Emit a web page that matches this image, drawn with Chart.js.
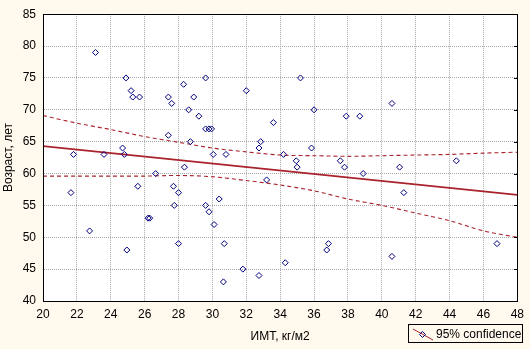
<!DOCTYPE html>
<html><head><meta charset="utf-8">
<script src="https://cdn.jsdelivr.net/npm/chart.js@4"></script>
<style>
html,body{margin:0;padding:0;background:#FFF9EE;}
#wrap{position:relative;width:530px;height:349px;}
#legend{position:absolute;left:408px;top:324px;width:113px;height:17px;border:1px solid #000;font:12px "Liberation Sans",Arial,sans-serif;color:#000;}
#legend svg{position:absolute;left:0;top:0;}
#legend span{position:absolute;left:27px;top:0;line-height:18px;white-space:nowrap;}
</style>
</head><body>
<div id="wrap">
<canvas id="c" width="530" height="349"></canvas>
<div id="legend"><svg width="26" height="17"><line x1="4" y1="4" x2="24" y2="15" stroke="#A8232B" stroke-width="1"/><path d="M13.5 6.5 L16.5 9.5 L13.5 12.5 L10.5 9.5 Z" fill="none" stroke="#000080" stroke-width="1"/></svg><span>95% confidence</span></div>
</div>
<script>
const bmi = [23.1,24.9,25.2,25.3,25.7,27.4,28.3,28.9,27.6,28.6,29.2,27.4,28.7,24.7,21.8,23.6,24.8,
  29.6,35.2,32.0,29.6,29.8,29.95,33.6,36.0,37.9,38.7,32.85,32.75,35.85,30.05,30.8,34.2,34.95,37.55,
  40.6,44.4,28.35,26.65,21.65,25.6,27.7,28.0,27.75,26.2,26.3,22.75,24.95,28.0,35.0,37.8,33.2,30.4,
  29.6,29.8,30.1,30.7,36.85,36.75,34.3,31.8,32.75,30.65,38.9,41.05,41.3,40.6,46.8];
const age = [79,75,73,72,72,72,74,72,71,70,69,66,65,64,63,63,63,
  75,75,73,67,67,67,68,70,69,69,65,64,64,63,63,63,62,62,
  71,62,61,60,57,58,58,57,55,53,53,51,48,49,61,61,59,56,
  55,54,52,49,49,48,46,45,44,43,60,61,57,47,49];
const fitX = [20, 48];
const fitY = [64.3, 56.65];
const bandX = [20,22,24,26,28,30,32,34,36,38,40,42,44,46,48];
const upperBand = [69.1,67.9,66.9,65.8,64.9,64.0,63.4,62.9,62.8,62.7,62.8,62.9,63.0,63.2,63.35];
const lowerBand = [59.6,59.6,59.6,59.6,59.7,59.5,58.9,58.2,57.3,56.0,55.0,53.8,52.6,51.0,50.0];
const xTicks = [20,22,24,26,28,30,32,34,36,38,40,42,44,46,48];
const yTicks = [40,45,50,55,60,65,70,75,80,85];
const xTitle = 'ИМТ, кг/м2';
const yTitle = 'Возраст, лет';

const pts = bmi.map((x,i)=>({x:x, y:age[i]}));
const fit = fitX.map((x,i)=>({x:x, y:fitY[i]}));
const up = bandX.map((x,i)=>({x:x, y:upperBand[i]}));
const lo = bandX.map((x,i)=>({x:x, y:lowerBand[i]}));
const red = '#A8232B';
const font = {family:'"Liberation Sans", Arial, sans-serif', size:12};

const frame = {
  id:'frame',
  beforeDraw(c){
    const {ctx, chartArea:a} = c;
    ctx.save(); ctx.fillStyle='#fff';
    ctx.fillRect(a.left, a.top, a.right-a.left, a.bottom-a.top);
    ctx.restore();
  },
  afterDraw(c){
    const {ctx, chartArea:a, scales} = c;
    ctx.save(); ctx.strokeStyle='#000'; ctx.lineWidth=1;
    ctx.strokeRect(Math.round(a.left)+0.5, Math.round(a.top)+0.5, Math.round(a.right-a.left), Math.round(a.bottom-a.top));
    ctx.beginPath();
    yTicks.forEach(v=>{
      const py = Math.round(scales.y.getPixelForValue(v))+0.5;
      ctx.moveTo(Math.round(a.right)-3, py); ctx.lineTo(Math.round(a.right), py);
    });
    ctx.stroke();
    ctx.restore();
  }
};

new Chart(document.getElementById('c'), {
  type:'scatter',
  data:{datasets:[
    {label:'95% confidence', data:pts, pointStyle:'rectRot', pointRadius:3, pointHoverRadius:3,
     borderColor:'#000080', backgroundColor:'rgba(0,0,0,0)', pointBorderWidth:1, showLine:false},
    {label:'fit', data:fit, showLine:true, pointRadius:0, borderColor:red, borderWidth:1.6, backgroundColor:red},
    {label:'upper', data:up, showLine:true, pointRadius:0, borderColor:red, borderWidth:1.1, borderDash:[4,3], tension:0.3},
    {label:'lower', data:lo, showLine:true, pointRadius:0, borderColor:red, borderWidth:1.1, borderDash:[4,3], tension:0.3}
  ]},
  options:{
    responsive:false, animation:false, devicePixelRatio:1,
    layout:{padding:{top:10,right:10,left:0,bottom:0}},
    plugins:{legend:{display:false}, tooltip:{enabled:false}},
    scales:{
      x:{type:'linear', min:20, max:48,
         afterFit(s){ s.height = 48; },
         afterBuildTicks(s){ s.ticks = xTicks.map(v=>({value:v})); },
         ticks:{autoSkip:false, maxRotation:0, color:'#000', font:font, padding:6},
         grid:{color:'#A8A8A8', drawTicks:false},
         border:{color:'#000', width:1, dash:[1,1]},
         title:{display:true, text:xTitle, color:'#000', font:font, padding:{top:0,bottom:5}}},
      y:{type:'linear', min:40, max:85,
         afterFit(s){ s.width = 43; },
         afterBuildTicks(s){ s.ticks = yTicks.map(v=>({value:v})); },
         ticks:{color:'#000', font:font, padding:7},
         grid:{color:'#A8A8A8', drawTicks:false},
         border:{color:'#000', width:1, dash:[1,1]},
         title:{display:true, text:yTitle, color:'#000', font:font, padding:{top:1,bottom:0}}}
    }
  },
  plugins:[frame]
});
</script>
</body></html>
